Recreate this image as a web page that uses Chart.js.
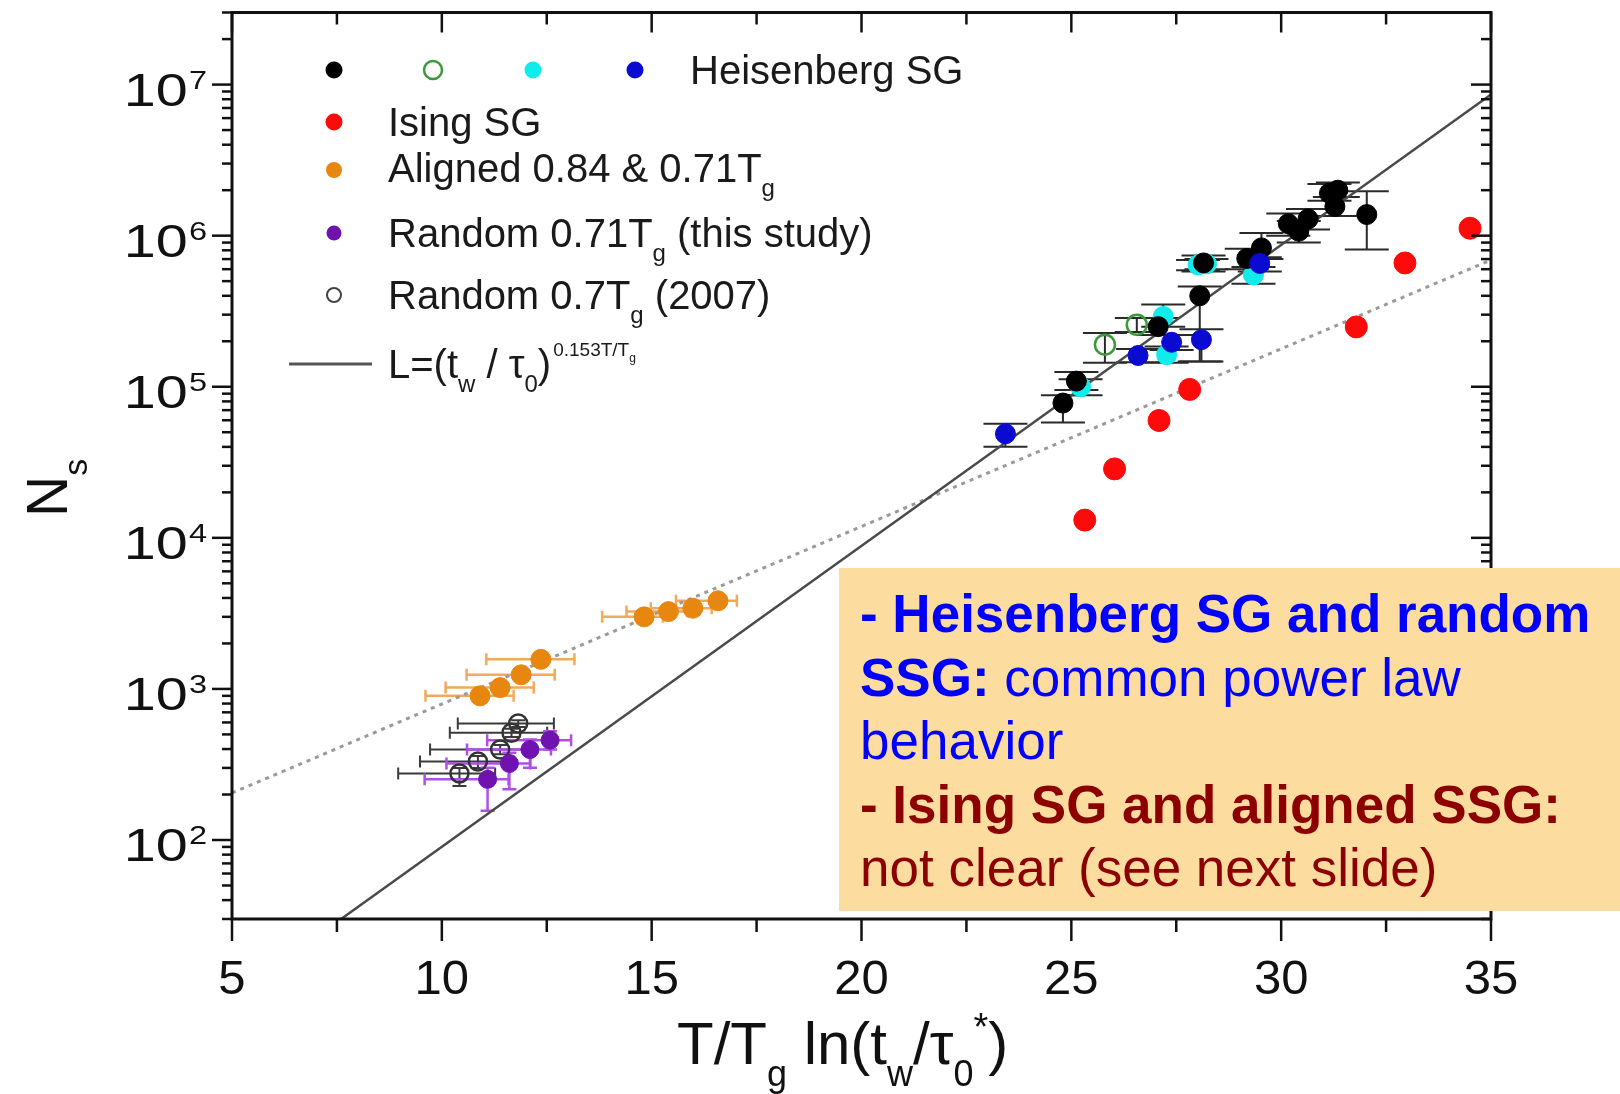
<!DOCTYPE html>
<html>
<head>
<meta charset="utf-8">
<script src="https://cdn.jsdelivr.net/npm/chart.js@4.4.0/dist/chart.umd.min.js"></script>
<style>
  body { margin: 0; background: #fff; }
  #wrap { position: relative; width: 1620px; height: 1094px; overflow: hidden; }
  #chart { position: absolute; left: 0; top: 0; }
  #note {
    position: absolute; left: 839px; top: 568px; width: 781px; height: 343px;
    box-sizing: border-box; padding: 14px 0 0 21px; background: #fddca0;
    font-family: "Liberation Sans", Arial, sans-serif; font-size: 53px; line-height: 63.5px;
    white-space: nowrap;
  }
  .blue { color: #0000ff; }
  .dark { color: #8c0000; }
</style>
</head>
<body>
<div id="wrap">
  <canvas id="chart" width="1620" height="1094"></canvas>
  <div id="note">
    <div class="blue"><b>- Heisenberg SG and random</b></div>
    <div class="blue"><b>SSG:</b> common power law</div>
    <div class="blue">behavior</div>
    <div class="dark"><b>- Ising SG and aligned SSG:</b></div>
    <div class="dark">not clear (see next slide)</div>
  </div>
</div>
<script>
// Axis ranges and tick positions
const xMin = 5, xMax = 35;
const xMajorTicks = [5, 10, 15, 20, 25, 30, 35];
const xMinorTicks = [7.5, 12.5, 17.5, 22.5, 27.5, 32.5];
const yMin = 30, yMax = 3e7;
const yDecades = [2, 3, 4, 5, 6, 7];

// Heisenberg SG - black
const hbX = [24.80, 25.12, 27.07, 28.06, 28.15, 29.18, 29.53, 30.17, 30.42, 30.64, 31.15, 31.35, 31.28, 32.04];
const hbY = [7.8e4, 1.09e5, 2.5e5, 4.0e5, 6.6e5, 7.06e5, 8.3e5, 1.2e6, 1.07e6, 1.29e6, 1.91e6, 2.0e6, 1.56e6, 1.38e6];
const hbLo = [5.8e4, 9.5e4, 2.2e5, 1.47e5, 5.8e5, 6.0e5, 7.0e5, 1.0e6, 9.0e5, 1.1e6, 1.7e6, 1.8e6, 1.35e6, 8.1e5];
const hbHi = [8.8e4, 1.25e5, 2.85e5, 4.6e5, 7.4e5, 8.2e5, 1.04e6, 1.4e6, 1.25e6, 1.5e6, 2.2e6, 2.25e6, 1.8e6, 1.97e6];

// Heisenberg SG - open green
const hgX = [25.80, 26.56];
const hgY = [1.9e5, 2.57e5];
const hgLo = [1.44e5, 2.3e5];
const hgHi = [2.27e5, 2.85e5];

// Heisenberg SG - cyan
const hcX = [25.22, 27.19, 27.27, 28.02, 28.22, 29.34];
const hcY = [1.0e5, 2.92e5, 1.63e5, 6.4e5, 6.5e5, 5.5e5];
const hcLo = [8.8e4, 2.5e5, 1.44e5, 5.9e5, 6.0e5, 4.8e5];
const hcHi = [1.12e5, 3.5e5, 1.85e5, 6.9e5, 7.0e5, 6.2e5];

// Heisenberg SG - blue
const hhX = [23.43, 26.59, 27.39, 28.10, 29.49];
const hhY = [4.88e4, 1.61e5, 1.97e5, 2.05e5, 6.55e5];
const hhLo = [4.0e4, 1.45e5, 1.75e5, 1.47e5, 5.8e5];
const hhHi = [5.7e4, 1.78e5, 2.2e5, 2.4e5, 7.2e5];

// Ising SG
const isingX = [25.32, 26.03, 27.09, 27.82, 31.79, 32.95, 34.50];
const isingY = [1.31e4, 2.86e4, 5.98e4, 9.6e4, 2.49e5, 6.6e5, 1.12e6];

// Aligned 0.84 & 0.71 Tg
const alignedX = [10.91, 11.39, 11.89, 12.36, 14.82, 15.40, 15.98, 16.58];
const alignedY = [900, 1020, 1240, 1570, 3000, 3250, 3420, 3830];
const alignedXLo = [1.3, 1.3, 1.3, 1.3, 1.0, 1.0, 1.0, 1.0];
const alignedXHi = [0.8, 0.8, 0.8, 0.8, 0.45, 0.45, 0.45, 0.45];

// Random 0.71 Tg (this study)
const rand71X = [11.09, 11.61, 12.10, 12.58];
const rand71Y = [252, 321, 397, 458];
const rand71Lo = [156, 217, 301, 397];
const rand71Hi = [301, 378, 463, 525];
const rand71XLo = [1.5, 1.5, 1.5, 1.5];
const rand71XHi = [0.5, 0.5, 0.5, 0.5];

// Random 0.7 Tg (2007)
const rand07X = [10.42, 10.86, 11.39, 11.66, 11.82];
const rand07Y = [276, 331, 397, 512, 590];
const rand07Lo = [228, 300, 370, 480, 560];
const rand07Hi = [300, 360, 425, 545, 620];
const rand07XLo = [1.46, 1.38, 1.67, 1.47, 1.44];
const rand07XHi = [0.85, 0.85, 0.85, 0.85, 0.85];

// Power-law line and dotted guide
const fitX = [7.6, 35];
const fitY = [30, 8.6e6];
const guideX = [5, 35];
const guideY = [205, 6.9e5];

const FONT = '"Liberation Sans", Arial, sans-serif';

const pts = (xs, ys) => xs.map((v, i) => ({ x: v, y: ys[i] }));

// Draws a run of text pieces [text, size, dy] one after another
function drawRich(ctx, x, y, parts) {
  let cx = x;
  parts.forEach(([t, size, dy]) => {
    ctx.font = `${size}px ${FONT}`;
    ctx.fillText(t, cx, y + (dy || 0));
    cx += ctx.measureText(t).width;
  });
  return cx;
}

const errorBars = {
  id: 'errorBars',
  beforeDatasetsDraw(chart) {
    const { ctx, chartArea: a, scales: { x, y } } = chart;
    const seg = (x1, y1, x2, y2) => { ctx.beginPath(); ctx.moveTo(x1, y1); ctx.lineTo(x2, y2); ctx.stroke(); };
    ctx.save();
    ctx.beginPath();
    ctx.rect(a.left, a.top, a.right - a.left, a.bottom - a.top);
    ctx.clip();
    chart.data.datasets.forEach(ds => {
      const e = ds.errors;
      if (!e) return;
      ctx.strokeStyle = e.color;
      ctx.lineWidth = e.width;
      ds.data.forEach((p, i) => {
        const px = x.getPixelForValue(p.x);
        const py = y.getPixelForValue(p.y);
        if (e.xLo) {
          const l = x.getPixelForValue(p.x - e.xLo[i]);
          const r = x.getPixelForValue(p.x + e.xHi[i]);
          seg(l, py, r, py);
          seg(l, py - e.capX, l, py + e.capX);
          seg(r, py - e.capX, r, py + e.capX);
        }
        if (e.yLo) {
          const t = y.getPixelForValue(e.yHi[i]);
          const b = y.getPixelForValue(e.yLo[i]);
          seg(px, t, px, b);
          seg(px - e.capY, t, px + e.capY, t);
          seg(px - e.capY, b, px + e.capY, b);
        }
      });
    });
    ctx.restore();
  }
};

const frame = {
  id: 'frame',
  afterDraw(chart) {
    const { ctx, chartArea: a, scales: { x, y } } = chart;
    const seg = (x1, y1, x2, y2) => { ctx.beginPath(); ctx.moveTo(x1, y1); ctx.lineTo(x2, y2); ctx.stroke(); };
    ctx.save();
    ctx.strokeStyle = '#111';
    ctx.lineWidth = 3;
    ctx.strokeRect(a.left, a.top, a.right - a.left, a.bottom - a.top);

    // x ticks: outward at the bottom, inward at the top
    ctx.lineWidth = 2.5;
    xMajorTicks.forEach(v => {
      const px = x.getPixelForValue(v);
      seg(px, a.bottom, px, a.bottom + 22);
      seg(px, a.top, px, a.top + 20);
    });
    xMinorTicks.forEach(v => {
      const px = x.getPixelForValue(v);
      seg(px, a.bottom, px, a.bottom + 13);
      seg(px, a.top, px, a.top + 12);
    });

    // y ticks: outward on the left, inward on the right
    for (let k = 1; k <= 7; k++) {
      for (let m = 1; m <= 9; m++) {
        const v = m * Math.pow(10, k);
        if (v < yMin || v > yMax) continue;
        const py = y.getPixelForValue(v);
        const len = m === 1 ? 20 : 10;
        seg(a.left - len, py, a.left, py);
        seg(a.right - len, py, a.right, py);
      }
    }

    // x tick labels
    ctx.fillStyle = '#111';
    ctx.textAlign = 'center';
    ctx.textBaseline = 'alphabetic';
    ctx.font = `49px ${FONT}`;
    xMajorTicks.forEach(v => ctx.fillText(String(v), x.getPixelForValue(v), a.bottom + 75));

    // y tick labels as 10 with a raised exponent
    yDecades.forEach(k => {
      const py = y.getPixelForValue(Math.pow(10, k));
      ctx.save();
      ctx.translate(a.left - 25, py);
      ctx.scale(1.25, 1);
      ctx.textAlign = 'right';
      ctx.font = `26px ${FONT}`;
      ctx.fillText(String(k), 0, 4);
      const ew = ctx.measureText(String(k)).width;
      ctx.font = `46px ${FONT}`;
      ctx.fillText('10', -ew - 1, 21);
      ctx.restore();
    });

    // x axis title
    ctx.save();
    ctx.translate(677, 1064);
    ctx.scale(1.0, 1);
    ctx.textAlign = 'left';
    drawRich(ctx, 0, 0, [['T/T', 60], ['g', 36, 22], [' ln(t', 60], ['w', 36, 22], ['/τ', 60], ['0', 36, 22], ['*', 38, -24], [')', 60]]);
    ctx.restore();

    // y axis title
    ctx.save();
    ctx.translate(67, 517);
    ctx.rotate(-Math.PI / 2);
    ctx.textAlign = 'left';
    drawRich(ctx, 0, 0, [['N', 57], ['s', 34, 20]]);
    ctx.restore();

    // legend
    const dot = (cx, cy, r, fill, stroke, lw) => {
      ctx.beginPath();
      ctx.arc(cx, cy, r, 0, Math.PI * 2);
      if (fill) { ctx.fillStyle = fill; ctx.fill(); }
      if (stroke) { ctx.strokeStyle = stroke; ctx.lineWidth = lw; ctx.stroke(); }
    };
    dot(334, 70, 8.5, '#000');
    dot(433, 70, 9, null, '#3a9a3a', 2.5);
    dot(533, 70, 8.5, '#10ecec');
    dot(635, 70, 8.5, '#0a0ad0');
    dot(334, 122, 8.5, '#ff0a0a');
    dot(334, 170, 8, '#e8870f');
    dot(334, 233, 7.5, '#7012b0');
    dot(334, 295, 7, null, '#444', 2);
    ctx.strokeStyle = '#555';
    ctx.lineWidth = 3;
    seg(289, 364, 372, 364);

    ctx.fillStyle = '#1a1a1a';
    ctx.textAlign = 'left';
    drawRich(ctx, 690, 84, [['Heisenberg SG', 40]]);
    drawRich(ctx, 388, 136, [['Ising SG', 40]]);
    drawRich(ctx, 388, 182, [['Aligned 0.84 & 0.71T', 40], ['g', 24, 14]]);
    drawRich(ctx, 388, 247, [['Random 0.71T', 40], ['g', 24, 14], [' (this study)', 40]]);
    drawRich(ctx, 388, 309, [['Random 0.7T', 40], ['g', 24, 14], [' (2007)', 40]]);
    const ex = drawRich(ctx, 388, 378, [['L=(t', 40], ['w', 24, 14], [' / τ', 40], ['0', 24, 14], [')', 40]]);
    drawRich(ctx, ex + 2, 356, [['0.153T/T', 19], ['g', 12, 6]]);
    ctx.restore();
  }
};

const heisErr = (lo, hi) => ({ yLo: lo, yHi: hi, capY: 22, color: '#2a2a2a', width: 2 });

new Chart(document.getElementById('chart'), {
  type: 'scatter',
  data: {
    datasets: [
      {
        type: 'line', data: pts(fitX, fitY), borderColor: '#4a4a4a', borderWidth: 2.5,
        pointRadius: 0, fill: false, order: 20
      },
      {
        type: 'line', data: pts(guideX, guideY), borderColor: '#9a9a9a', borderWidth: 3,
        borderDash: [4, 5], pointRadius: 0, fill: false, order: 21
      },
      {
        data: pts(rand07X, rand07Y), pointRadius: 9, backgroundColor: 'rgba(0,0,0,0)',
        borderColor: '#333', borderWidth: 2.5, order: 9,
        errors: { xLo: rand07XLo, xHi: rand07XHi, yLo: rand07Lo, yHi: rand07Hi, capX: 6, capY: 7, color: '#3a3a3a', width: 2 }
      },
      {
        data: pts(rand71X, rand71Y), pointRadius: 9, backgroundColor: '#7012b0',
        borderColor: '#7012b0', borderWidth: 1, order: 8,
        errors: { xLo: rand71XLo, xHi: rand71XHi, yLo: rand71Lo, yHi: rand71Hi, capX: 6, capY: 7, color: '#b14ee6', width: 2.5 }
      },
      {
        data: pts(alignedX, alignedY), pointRadius: 10, backgroundColor: '#e8870f',
        borderColor: '#e8870f', borderWidth: 1, order: 7,
        errors: { xLo: alignedXLo, xHi: alignedXHi, capX: 6, color: '#f2a95a', width: 2.5 }
      },
      {
        data: pts(isingX, isingY), pointRadius: 11, backgroundColor: '#ff0a0a',
        borderColor: '#ff0a0a', borderWidth: 1, order: 6
      },
      {
        data: pts(hcX, hcY), pointRadius: 10, backgroundColor: '#10ecec',
        borderColor: '#10ecec', borderWidth: 1, order: 5, errors: heisErr(hcLo, hcHi)
      },
      {
        data: pts(hbX, hbY), pointRadius: 10, backgroundColor: '#000',
        borderColor: '#000', borderWidth: 1, order: 4, errors: heisErr(hbLo, hbHi)
      },
      {
        data: pts(hgX, hgY), pointRadius: 10, backgroundColor: 'rgba(0,0,0,0)',
        borderColor: '#3a9a3a', borderWidth: 2.5, order: 3, errors: heisErr(hgLo, hgHi)
      },
      {
        data: pts(hhX, hhY), pointRadius: 10, backgroundColor: '#0a0ad0',
        borderColor: '#0a0ad0', borderWidth: 1, order: 2, errors: heisErr(hhLo, hhHi)
      }
    ]
  },
  options: {
    responsive: false,
    animation: false,
    events: [],
    layout: { padding: { left: 232, right: 129, top: 11, bottom: 175 } },
    plugins: { legend: { display: false }, tooltip: { enabled: false } },
    scales: {
      x: { type: 'linear', min: xMin, max: xMax, display: false },
      y: { type: 'logarithmic', min: yMin, max: yMax, display: false }
    }
  },
  plugins: [errorBars, frame]
});
</script>
</body>
</html>
